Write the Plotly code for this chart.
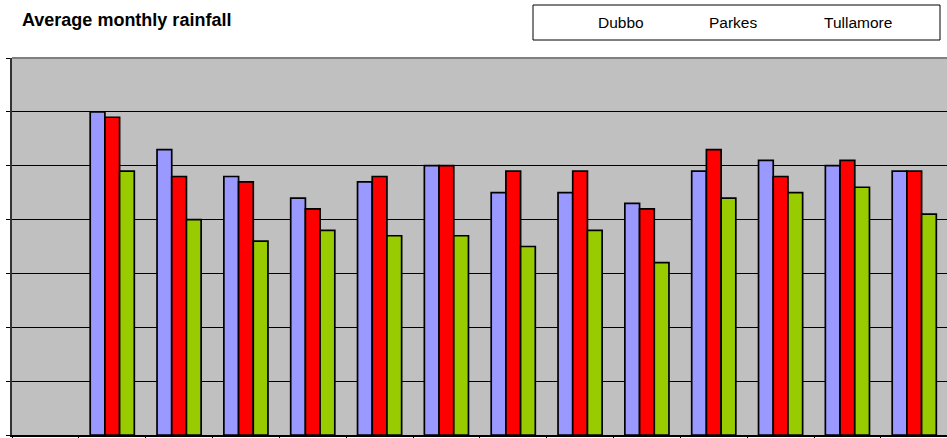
import plotly.graph_objects as go

# Average monthly rainfall (mm) for three central-west NSW towns
categories = ["Jan", "Feb", "Mar", "Apr", "May", "Jun", "Jul",
              "Aug", "Sep", "Oct", "Nov", "Dec", "Avg"]
series_names = ["Dubbo", "Parkes", "Tullamore"]
dubbo = [60, 53, 48, 44, 47, 50, 45, 45, 43, 49, 51, 50, 49]
parkes = [59, 48, 47, 42, 48, 50, 49, 49, 42, 53, 48, 51, 49]
tullamore = [49, 40, 36, 38, 37, 37, 35, 38, 32, 44, 45, 46, 41]
y_ticks = [0, 10, 20, 30, 40, 50, 60, 70]

colors = ["#9999FF", "#FF0000", "#99CC00"]
values = [dubbo, parkes, tullamore]

# The first slot on the category axis is left empty; data starts at slot 1
x_pos = [i + 1 for i in range(len(categories))]
n_slots = len(categories) + 1

fig = go.Figure()
for name, vals, col in zip(series_names, values, colors):
    fig.add_trace(go.Bar(
        x=x_pos, y=vals, name=name,
        marker=dict(color=col, line=dict(color="#000000", width=1.7)),
        showlegend=False,
    ))

fig.update_layout(
    width=947, height=438,
    margin=dict(l=12, r=0, t=58, b=3),
    paper_bgcolor="#FFFFFF",
    plot_bgcolor="#C0C0C0",
    barmode="group",
    bargap=0.34,
    bargroupgap=0,
    font=dict(family="Liberation Sans, Arial, sans-serif", color="#000000"),
    xaxis=dict(
        range=[-0.5, n_slots - 0.51],
        tickmode="array",
        tickvals=[k - 0.5 for k in range(n_slots + 1)],
        showticklabels=False,
        ticks="outside", ticklen=4, tickcolor="#000000", tickwidth=1,
        showgrid=False, zeroline=False,
        showline=True, linecolor="#000000", linewidth=1.5,
    ),
    yaxis=dict(
        range=[y_ticks[0], y_ticks[-1]],
        tickmode="array", tickvals=y_ticks,
        showticklabels=False,
        ticks="outside", ticklen=4, tickcolor="#000000", tickwidth=1,
        showgrid=True, gridcolor="#000000", gridwidth=1,
        zeroline=False,
        showline=True, linecolor="#333333", linewidth=2,
    ),
)

# Top border of the plot area
fig.add_shape(type="line", xref="paper", yref="paper",
              x0=0, x1=1, y0=1, y1=1,
              line=dict(color="#808080", width=2))

# Chart title
fig.add_annotation(
    text="<b>Average monthly rainfall</b>",
    xref="paper", yref="paper", x=(20 - 12) / 935, y=1 + (58 - 19.5) / 377,
    xanchor="left", yanchor="middle", showarrow=False,
    font=dict(size=18, color="#000000"),
)

# Legend box with series names
fig.add_shape(type="rect", xref="paper", yref="paper",
              x0=(533 - 12) / 935, x1=(940 - 12) / 935,
              y0=1 + (58 - 40) / 377, y1=1 + (58 - 5) / 377,
              line=dict(color="#000000", width=1), fillcolor="#FFFFFF")
legend_centers = [620.5, 733, 857.5]
for name, cx in zip(series_names, legend_centers):
    fig.add_annotation(
        text=name, xref="paper", yref="paper",
        x=(cx - 12) / 935, y=1 + (58 - 22) / 377,
        xanchor="center", yanchor="middle", showarrow=False,
        font=dict(size=15.5, color="#000000"),
    )

fig.write_html("out.html")
